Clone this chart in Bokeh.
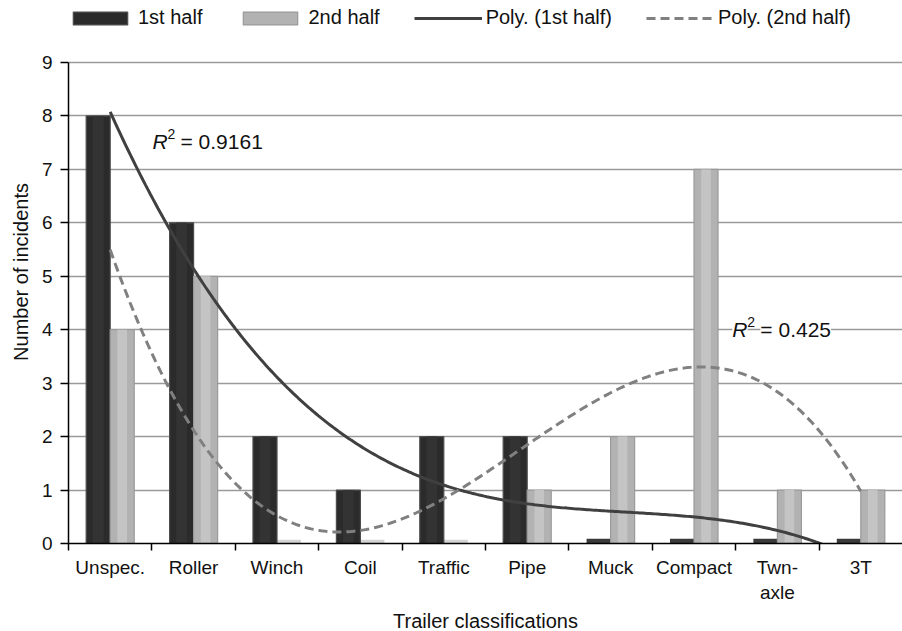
import numpy as np
from bokeh.plotting import figure
from bokeh.models import (ColumnDataSource, FixedTicker, Legend, LegendItem, Label, Range1d)
from bokeh.embed import file_html
from bokeh.resources import INLINE

# ---- data ----
categories = ["Unspec.", "Roller", "Winch", "Coil", "Traffic", "Pipe", "Muck", "Compact", "Twn-\naxle", "3T"]
first_half = [8, 6, 2, 1, 2, 2, 0, 0, 0, 0]
second_half = [4, 5, 0, 0, 0, 1, 2, 7, 1, 1]
y_ticks = [0, 1, 2, 3, 4, 5, 6, 7, 8, 9]
r2_first = "0.9161"
r2_second = "0.425"
poly_order = 3

FONT = "Liberation Sans"
BAR_W = 0.288
OFF = 0.144
AXIS_H = 481          # pixel height of the 0..9 value axis
LEGEND_ROOM = 62      # pixels above the top gridline for the legend
Y_MAX = y_ticks[-1]
y_top = Y_MAX + LEGEND_ROOM * Y_MAX / AXIS_H
FRAME_H = AXIS_H + LEGEND_ROOM

pos = np.arange(1, len(categories) + 1)
src = ColumnDataSource(dict(
    x1=pos - OFF, x2=pos + OFF,
    a=first_half, b=second_half,
))

p = figure(frame_width=834, frame_height=FRAME_H,
           x_range=Range1d(0.5, 10.5), y_range=Range1d(0, y_top),
           output_backend="svg", toolbar_location=None,
           min_border_left=68, min_border_right=0, min_border_top=0, min_border_bottom=82)
p.outline_line_color = None
p.background_fill_color = "white"

# grid
p.xgrid.grid_line_color = None
p.ygrid.ticker = FixedTicker(ticks=y_ticks)
p.ygrid.grid_line_color = "#9a9a9a"
p.ygrid.grid_line_width = 1.5

# bars: small base (Excel-style) + main body + inner shading
p.vbar(x="x1", width=BAR_W, bottom=0, top=0.09, source=src, fill_color="#3a3a3a", line_color=None)
p.vbar(x="x2", width=BAR_W, bottom=0, top=0.07, source=src, fill_color="#d4d4d4", line_color=None)
dark = p.vbar(x="x1", width=BAR_W, bottom=0, top="a", source=src,
              fill_color="#2b2b2b", line_color="#4d4d4d", line_width=1.2)
p.vbar(x="x1", width=BAR_W * 0.45, bottom=0, top="a", source=src,
       fill_color="#333333", line_color=None)
light = p.vbar(x="x2", width=BAR_W, bottom=0, top="b", source=src,
               fill_color="#b2b2b2", line_color="#9a9a9a", line_width=1.2)
p.vbar(x="x2", width=BAR_W * 0.4, bottom=0, top="b", source=src,
       fill_color="#c4c4c4", line_color=None)

# polynomial trendlines (fitted from the data, as Excel does)
xs = np.linspace(pos[0], pos[-1], 300)
c1 = np.polyfit(pos, first_half, poly_order)
c2 = np.polyfit(pos, second_half, poly_order)
y1 = np.polyval(c1, xs)
y2 = np.polyval(c2, xs)
l1 = p.line(xs, y1, line_color="#404040", line_width=3)
l2 = p.line(xs, y2, line_color="#808080", line_width=3, line_dash="9 5")

# axes
xa = p.xaxis[0]
xa.ticker = FixedTicker(ticks=list(pos), minor_ticks=list(pos - 0.5))
xa.major_label_overrides = {int(k): v for k, v in zip(pos, categories)}
xa.major_tick_line_color = None
xa.major_tick_out = 0
xa.minor_tick_out = 7
xa.minor_tick_in = 0
xa.minor_tick_line_color = "black"
xa.minor_tick_line_width = 1.5
xa.axis_line_color = "black"
xa.axis_line_width = 1.5
xa.major_label_standoff = 6
xa.major_label_text_font = FONT
xa.major_label_text_font_size = "19px"
xa.major_label_text_color = "#111111"
xa.axis_label = "Trailer classifications"
xa.axis_label_text_font = FONT
xa.axis_label_text_font_size = "20px"
xa.axis_label_text_font_style = "normal"
xa.axis_label_text_color = "#111111"
xa.axis_label_standoff = 4

ya = p.yaxis[0]
ya.ticker = FixedTicker(ticks=y_ticks)
ya.bounds = (0, Y_MAX)
ya.major_tick_out = 8
ya.major_tick_in = 0
ya.minor_tick_line_color = None
ya.major_tick_line_color = "black"
ya.major_tick_line_width = 1.5
ya.axis_line_color = "black"
ya.axis_line_width = 1.5
ya.major_label_standoff = 8
ya.major_label_text_font = FONT
ya.major_label_text_font_size = "19px"
ya.major_label_text_color = "#111111"
ya.axis_label = "Number of incidents"
ya.axis_label_text_font = FONT
ya.axis_label_text_font_size = "20px"
ya.axis_label_text_font_style = "normal"
ya.axis_label_text_color = "#111111"
ya.axis_label_standoff = 7

# R^2 annotations
px_per_unit = AXIS_H / Y_MAX
def r2_label(x, y, val, bg):
    kw = dict(text_font=FONT, text_color="#111111", text_baseline="middle")
    if bg:
        kw.update(background_fill_color="white")
    p.add_layout(Label(x=x, y=y, text="R", text_font_size="21px", text_font_style="italic", **kw))
    p.add_layout(Label(x=x, y=y + 8 / px_per_unit, x_offset=15, text="2", text_font_size="14px", **kw))
    p.add_layout(Label(x=x, y=y, x_offset=28, text="= " + val, text_font_size="21px", **kw))

r2_label(1.507, 7.52, r2_first, False)
r2_label(8.46, 4.0, r2_second, True)

# legend at the top of the (extended) frame; tuple y is the legend's bottom edge
legend = Legend(items=[
    LegendItem(label="1st half", renderers=[dark]),
    LegendItem(label="2nd half", renderers=[light]),
    LegendItem(label="Poly. (1st half)", renderers=[l1]),
    LegendItem(label="Poly. (2nd half)", renderers=[l2]),
], orientation="horizontal", location=(-2, FRAME_H - 29),
    label_text_font=FONT, label_text_font_size="20px", label_text_color="#111111",
    glyph_width=68, glyph_height=16, label_standoff=4, spacing=34,
    padding=0, margin=0, border_line_color=None, background_fill_alpha=0)
p.add_layout(legend, "center")

open("out.html", "w").write(file_html(p, INLINE))
